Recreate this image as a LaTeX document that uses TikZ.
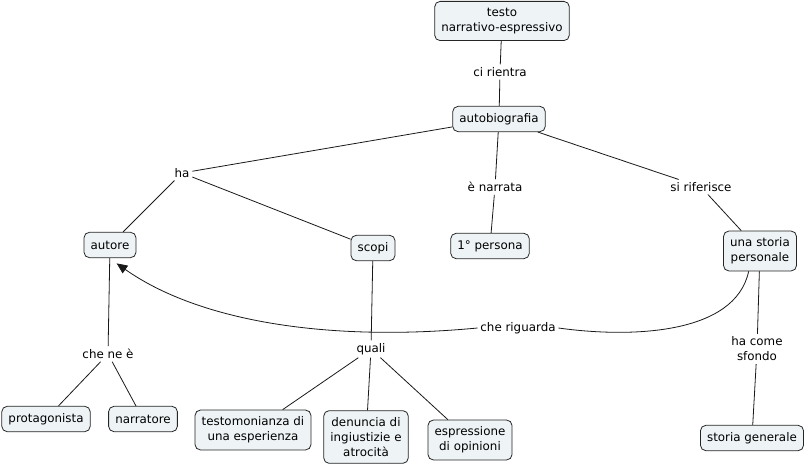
\documentclass[tikz,border=0pt]{standalone}
\usepackage{fontspec}
\setmainfont{DejaVu Sans}
\usetikzlibrary{arrows.meta}
\definecolor{boxfill}{HTML}{EEF3F5}
\begin{document}
\begin{tikzpicture}[x=0.75pt,y=-0.75pt,
  every node/.style={font=\fontsize{8.9}{11.3}\selectfont, text=black},
  concept/.style={draw=black!85, fill=boxfill, rounded corners=4pt, line width=0.6pt, align=center, inner xsep=5pt, inner ysep=5pt, minimum height=19pt},
  lbl/.style={align=center, inner sep=2pt},
  conn/.style={draw=black!90, line width=0.6pt}]
\useasboundingbox (0,0) rectangle (808,467);
% concepts
\node[concept] (testo) at (502,21) {testo\\narrativo-espressivo};
\node[concept] (auto) at (499,119) {autobiografia};
\node[concept] (autore) at (110,245) {autore};
\node[concept] (scopi) at (373,248) {scopi};
\node[concept] (pers) at (490,246) {1° persona};
\node[concept] (storia) at (760,251) {una storia\\personale};
\node[concept] (prot) at (46,419) {protagonista};
\node[concept] (narr) at (143,419) {narratore};
\node[concept] (test) at (253,430) {testomonianza di\\una esperienza};
\node[concept] (den) at (366,437) {denuncia di\\ingiustizie e\\atrocità};
\node[concept] (esp) at (470,440) {espressione\\di opinioni};
\node[concept] (gen) at (752,438) {storia generale};
% labels
\node[lbl] (ci) at (500,72) {ci rientra};
\node[lbl] (ha) at (182,173) {ha};
\node[lbl] (narrata) at (495,187) {è narrata};
\node[lbl] (rif) at (701,187) {si riferisce};
\node[lbl] (riguarda) at (518,328) {che riguarda};
\node[lbl] (quali) at (371,349) {quali};
\node[lbl] (chene) at (108,354) {che ne è};
\node[lbl] (sfondo) at (757,349) {ha come\\sfondo};
% connectors
\draw[conn] (testo) -- (ci);
\draw[conn] (ci) -- (auto);
\draw[conn] (auto) -- (ha);
\draw[conn] (ha) -- (autore);
\draw[conn] (ha) -- (scopi);
\draw[conn] (auto) -- (narrata);
\draw[conn] (narrata) -- (pers);
\draw[conn] (auto) -- (rif);
\draw[conn] (rif) -- (storia);
\draw[conn] (autore) -- (chene);
\draw[conn] (chene) -- (prot);
\draw[conn] (chene) -- (narr);
\draw[conn] (scopi) -- (quali);
\draw[conn] (quali) -- (test);
\draw[conn] (quali) -- (den);
\draw[conn] (quali) -- (esp);
\draw[conn] (storia) -- (sfondo);
\draw[conn] (sfondo) -- (gen);
\draw[conn] ([xshift=-8.5pt]storia.south) .. controls (735,335) and (630,338) .. (riguarda.east);
\draw[conn,-{Triangle[length=8pt,width=7pt]}] (riguarda.west) .. controls (330,342) and (200,322) .. ([xshift=5pt,yshift=-4pt]autore.south);
\end{tikzpicture}
\end{document}
